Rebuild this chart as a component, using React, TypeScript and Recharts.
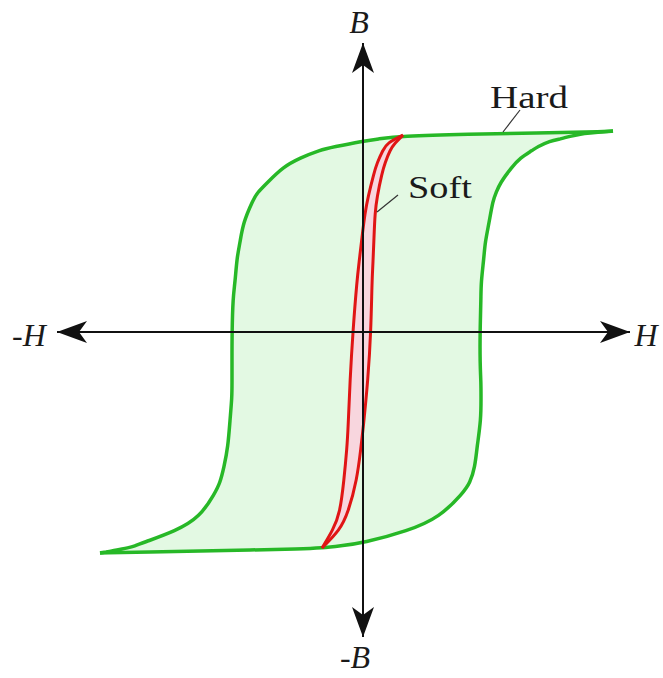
import { Area, ComposedChart, ReferenceDot, ReferenceLine, XAxis, YAxis } from "recharts"

// hard magnet loop: B levels with the H of the falling (left) and rising (right) branch
const hardB = [201, 200, 199, 198, 196, 193, 191, 185, 182, 174, 165, 149, 139, 132, 109, 89, 75, 49, 35, 0, -31, -51, -65, -88, -115, -135, -151, -161, -185, -199, -211, -214, -216, -217, -218, -219, -220, -221]
const hardLeft = [250, 227, 177, 104, 37, 15, 0, -30, -43, -63, -80, -96, -106, -110, -120, -123, -126, -128, -130, -131, -131, -131, -131, -133, -135, -139, -143, -148, -163, -187, -221, -228, -236, -241, -246, -251, -257, -263]
const hardRight = [250, 239, 227, 217, 209, 197, 187, 174, 170, 157, 149, 137, 133, 130, 126, 122, 121, 118, 118, 117, 117, 118, 118, 118, 114, 112, 107, 100, 77, 45, 0, -23, -41, -63, -113, -163, -213, -263]

// soft magnet loop
const softB = [197, 189, 182, 169, 159, 135, 119, 95, 69, 52, 2, -48, -98, -115, -148, -181, -198, -216]
const softLeft = [40, 24, 20, 14, 11, 5, 2, -1, -4, -6, -10, -13, -15, -16, -19, -23, -30, -41]
const softRight = [40, 32, 27, 22, 19, 14, 12, 11, 10, 9, 8, 5, 0, -2, -6, -15, -23, -41]

const hardData = hardB.map((b, i) => ({ b, h: [hardLeft[i], hardRight[i]] }))
const softData = softB.map((b, i) => ({ b, h: [softLeft[i], softRight[i]] }))

const ArrowLine = (props: any) => (
  <line
    x1={props.x1}
    y1={props.y1}
    x2={props.x2}
    y2={props.y2}
    stroke="#111"
    strokeWidth={2}
    markerStart="url(#arrowHead)"
    markerEnd="url(#arrowHead)"
  />
)

const makeText = (text: string, opts: { italic?: boolean; anchor?: string; size?: number; length?: number }) =>
  (props: any) => (
    <text
      x={props.cx}
      y={props.cy}
      fontFamily="'Liberation Serif', 'Times New Roman', serif"
      fontStyle={opts.italic ? "italic" : "normal"}
      fontSize={opts.size ?? 32}
      fill="#1a1a1a"
      textAnchor={opts.anchor ?? "middle"}
      textLength={opts.length}
      lengthAdjust={opts.length ? "spacingAndGlyphs" : undefined}
    >
      {text}
    </text>
  )

export default function App() {
  return (
    <div style={{ position: "absolute", left: 0, top: 0, width: 663, height: 678, background: "#fff" }}>
      <ComposedChart width={663} height={678} layout="vertical" margin={{ top: 0, right: 0, bottom: 0, left: 0 }}>
        <defs>
          <marker
            id="arrowHead"
            viewBox="0 0 30 22"
            markerWidth={30}
            markerHeight={22}
            refX={30}
            refY={11}
            markerUnits="userSpaceOnUse"
            orient="auto-start-reverse"
          >
            <path d="M0,0 L30,11 L0,22 L8,11 Z" fill="#111" />
          </marker>
        </defs>
        <XAxis type="number" domain={[-363, 300]} hide allowDataOverflow />
        <YAxis type="number" dataKey="b" domain={[-346, 332]} reversed hide allowDataOverflow />
        <Area
          data={hardData}
          dataKey="h"
          type="basis"
          stroke="#27b827"
          strokeWidth={3.5}
          fill="#e3f9e3"
          fillOpacity={1}
          dot={false}
          activeDot={false}
          isAnimationActive={false}
        />
        <Area
          data={softData}
          dataKey="h"
          type="basis"
          stroke="#e01515"
          strokeWidth={3}
          fill="#f8d6de"
          fillOpacity={1}
          dot={false}
          activeDot={false}
          isAnimationActive={false}
        />
        <ReferenceLine segment={[{ x: 0, y: 289 }, { x: 0, y: -305 }]} shape={ArrowLine} ifOverflow="visible" />
        <ReferenceLine segment={[{ x: -306, y: 0 }, { x: 267, y: 0 }]} shape={ArrowLine} ifOverflow="visible" />
        <ReferenceLine segment={[{ x: 157, y: 222 }, { x: 140, y: 200 }]} stroke="#333" strokeWidth={1.2} />
        <ReferenceLine segment={[{ x: 35, y: 137 }, { x: 14, y: 120 }]} stroke="#333" strokeWidth={1.2} />
        <ReferenceDot x={-4} y={299} r={0} shape={makeText("B", { italic: true })} ifOverflow="visible" />
        <ReferenceDot x={-8} y={-336} r={0} shape={makeText("-B", { italic: true })} ifOverflow="visible" />
        <ReferenceDot x={-334} y={-14} r={0} shape={makeText("-H", { italic: true })} ifOverflow="visible" />
        <ReferenceDot x={283} y={-14} r={0} shape={makeText("H", { italic: true })} ifOverflow="visible" />
        <ReferenceDot x={127} y={224} r={0} shape={makeText("Hard", { anchor: "start", size: 31, length: 78 })} ifOverflow="visible" />
        <ReferenceDot x={45} y={134} r={0} shape={makeText("Soft", { anchor: "start", size: 31, length: 64 })} ifOverflow="visible" />
      </ComposedChart>
    </div>
  )
}
